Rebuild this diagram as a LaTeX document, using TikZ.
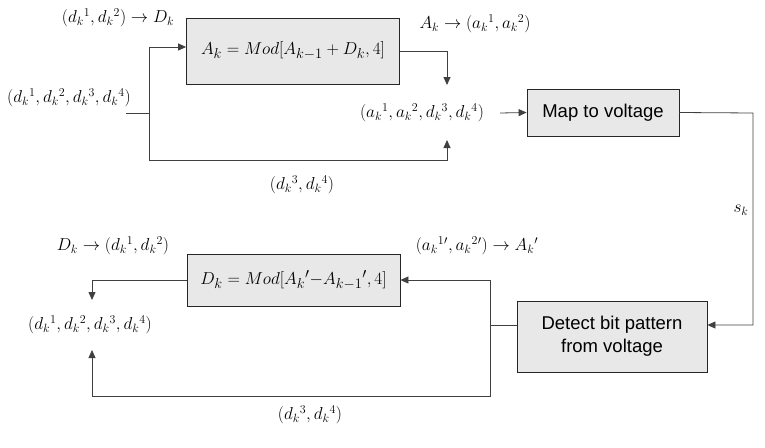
\documentclass[tikz,border=0pt]{standalone}
\usepackage{fontspec}
\newfontfamily\boxfont{Liberation Sans}
\usetikzlibrary{arrows.meta}
\newcommand{\dk}[1]{d_k{}^{#1}}
\newcommand{\ak}[1]{a_k{}^{#1}}
\begin{document}
\begin{tikzpicture}[x=1pt,y=-1pt,
  blk/.style={draw=black!85,fill=black!9,line width=0.8pt,inner sep=0pt},
  lab/.style={inner sep=0pt,font=\fontsize{18}{21}\selectfont},
  sans/.style={font=\boxfont\fontsize{18.5}{23}\selectfont,align=center},
  wire/.style={draw=black!75,line width=0.8pt},
  arr/.style={wire,-{Triangle[length=8pt,width=7pt]}}]
\useasboundingbox (0,0) rectangle (765,447);
% boxes
\node[blk,minimum width=213pt,minimum height=66pt,lab,font=\fontsize{19}{22}\selectfont] (box1) at (293,51)
  {$A_k = Mod\big[A_{k-1} + D_k,4\big]$};
\node[blk,minimum width=152pt,minimum height=47pt,sans] (box2) at (603,112.5) {Map to voltage};
\node[blk,minimum width=190pt,minimum height=71pt,sans] (box3) at (612,336.5) {Detect bit pattern\\from voltage};
\node[blk,minimum width=213pt,minimum height=52pt,lab,font=\fontsize{19}{22}\selectfont] (box4) at (293.5,280)
  {$D_k = Mod\big[A_k{}'{-}A_{k-1}{}',4\big]$};
% labels
\node[lab] (l1) at (118,18) {$(\dk1,\dk2)\rightarrow D_k$};
\node[lab] (l2) at (69,98) {$(\dk1,\dk2,\dk3,\dk4)$};
\node[lab] (l3) at (475,24) {$A_k\rightarrow(\ak1,\ak2)$};
\node[lab] (mid) at (422,113) {$(\ak1,\ak2,\dk3,\dk4)$};
\node[lab] (l5) at (302,185) {$(\dk3,\dk4)$};
\node[lab] (sk) at (741,210) {$s_k$};
\node[lab] (l6) at (113,246) {$D_k\rightarrow(\dk1,\dk2)$};
\node[lab] (l7) at (477,246) {$(\ak1{}',\ak2{}')\rightarrow A_k{}'$};
\node[lab] (out) at (90,325) {$(\dk1,\dk2,\dk3,\dk4)$};
\node[lab] (l8) at (310,415) {$(\dk3,\dk4)$};
% coordinates
\coordinate (inS) at (126,113);
\coordinate (j1) at (149,113);
\coordinate (j1b) at (149,160);
\coordinate (mT) at (447,85);
\coordinate (mB) at (447,140);
\coordinate (mE) at (500,113);
\coordinate (rC) at (753,113);
\coordinate (j2) at (490,325);
\coordinate (bl) at (92,396);
\coordinate (oT) at (92,300);
\coordinate (oB) at (92,350);
% connectors
\draw[wire] (inS) -- (j1);
\draw[arr] (j1) |- ([yshift=4pt]box1.west);
\draw[arr] (j1) -- (j1b) -| (mB);
\draw[arr] (box1.east) -| (mT);
\draw[arr] (mE) -- (box2.west);
\draw[arr] (box2.east) -- (rC) |- ([yshift=11.5pt]box3.east);
\draw[wire] ([yshift=11.5pt]box3.west) -- (j2);
\draw[arr] (j2) |- (box4.east);
\draw[arr] (j2) |- (bl) -- (oB);
\draw[arr] (box4.west) -| (oT);
\end{tikzpicture}
\end{document}
